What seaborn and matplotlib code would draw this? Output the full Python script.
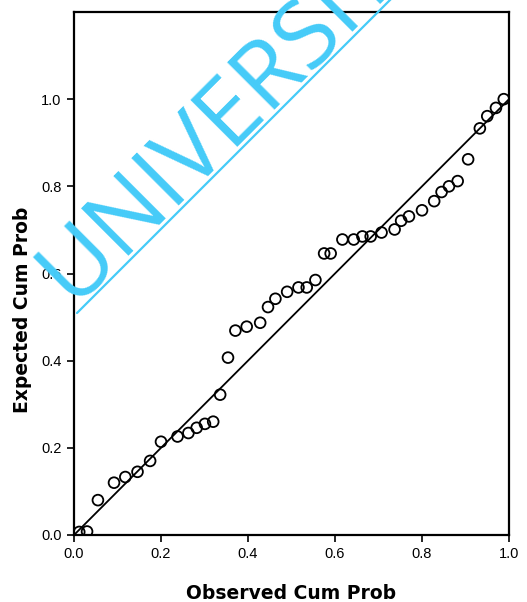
import matplotlib
matplotlib.use("Agg")
import matplotlib.pyplot as plt
import seaborn as sns
import pandas as pd
from matplotlib.lines import Line2D

# observed vs expected cumulative probabilities
observed = [0.012, 0.030, 0.055, 0.092, 0.118, 0.146, 0.175, 0.200, 0.238, 0.263,
            0.282, 0.301, 0.320, 0.336, 0.354, 0.371, 0.397, 0.428, 0.446, 0.463,
            0.490, 0.516, 0.535, 0.555, 0.575, 0.590, 0.617, 0.643, 0.663, 0.682,
            0.707, 0.737, 0.752, 0.770, 0.800, 0.828, 0.845, 0.862, 0.882, 0.906,
            0.933, 0.950, 0.970, 0.988]
expected = [0.007, 0.008, 0.080, 0.120, 0.133, 0.145, 0.170, 0.214, 0.226, 0.234,
            0.246, 0.255, 0.260, 0.322, 0.407, 0.469, 0.478, 0.487, 0.523, 0.542,
            0.558, 0.568, 0.568, 0.585, 0.646, 0.646, 0.678, 0.678, 0.685, 0.685,
            0.694, 0.701, 0.721, 0.731, 0.745, 0.766, 0.787, 0.800, 0.812, 0.862,
            0.933, 0.961, 0.980, 1.000]
ref_line = [0.0, 1.0]
ticks = [0.0, 0.2, 0.4, 0.6, 0.8, 1.0]
tick_labels = ['0.0', '0.2', '0.4', '0.6', '0.8', '1.0']

df = pd.DataFrame({'obs': observed, 'exp': expected})

sns.set_style('ticks')
plt.rcParams['font.family'] = ['Liberation Sans', 'DejaVu Sans']

fig = plt.figure(figsize=(5.27, 6.02), dpi=100)
ax = fig.add_axes([74/527, 1-535/602, 435/527, 523/602])

sns.lineplot(x=ref_line, y=ref_line, ax=ax, color='black', linewidth=1.3)
sns.scatterplot(data=df, x='obs', y='exp', ax=ax, s=60, facecolor='none',
                edgecolor='black', linewidth=1.3, zorder=3)

ax.set_xlim(0, 1.0)
ax.set_ylim(0, 1.2)
ax.set_xticks(ticks)
ax.set_xticklabels(tick_labels)
ax.set_yticks(ticks)
ax.set_yticklabels(tick_labels)
ax.tick_params(direction='out', length=5, width=1.2, labelsize=10.5, colors='black', pad=4)
for sp in ax.spines.values():
    sp.set_visible(True)
    sp.set_linewidth(1.6)
    sp.set_color('black')

lab = dict(fontsize=13.5, fontweight='bold', family='DejaVu Sans', color='black')
ax.set_xlabel('Observed Cum Prob', **lab)
ax.set_ylabel('Expected Cum Prob', **lab)
ax.xaxis.set_label_coords(0.5, -0.093)
ax.yaxis.set_label_coords(-0.097, 0.43)

# watermark
wm = '#45CBF8'
fig.text(72/527, 1-304/602, 'UNIVERSITY', rotation=45, rotation_mode='anchor',
         ha='left', va='baseline', fontsize=68, color=wm, family='Open Sans', zorder=10)
fig.add_artist(Line2D([77/527, 400/527], [1-313/602, 1+10/602], color=wm, linewidth=1.6, zorder=10))

fig.savefig('out.png', dpi=100)
